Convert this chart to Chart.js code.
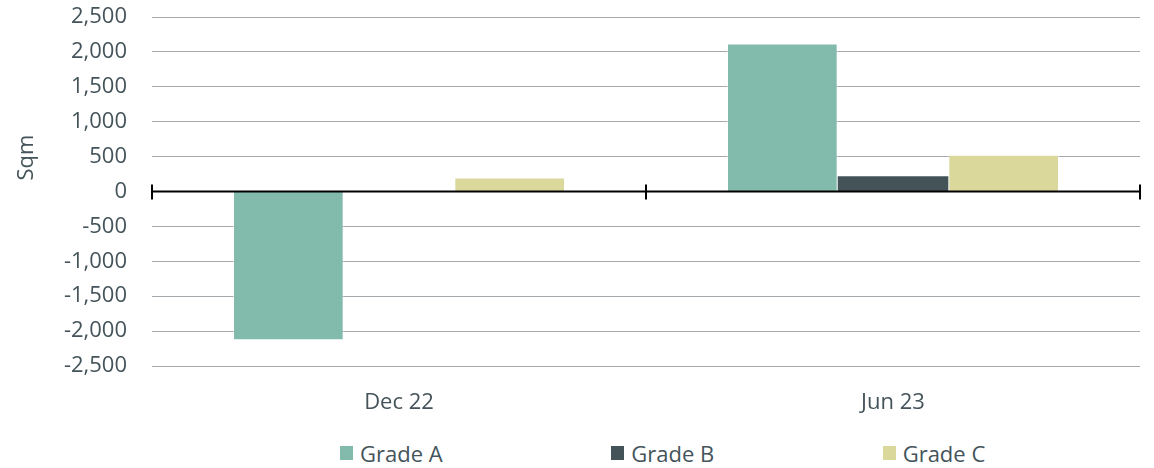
<!DOCTYPE html>
<html>
<head>
<meta charset="utf-8">
<script src="https://cdn.jsdelivr.net/npm/chart.js@4.4.1/dist/chart.umd.min.js"></script>
<style>
  html, body { margin: 0; padding: 0; background: #fff; overflow: hidden; }
  #wrap { width: 1154px; height: 425px; }
  #legend {
    width: 1154px; height: 43px;
    display: flex; align-items: center;
    padding: 12px 0 0 340px; box-sizing: border-box;
    font-family: 'Open Sans', sans-serif; font-size: 22px; color: #44545A;
  }
  #legend .item { width: 275px; display: flex; align-items: center; }
  #legend .box { width: 13px; height: 14px; margin-right: 7px; }
</style>
</head>
<body>
<div id="wrap"><canvas id="chart"></canvas></div>
<div id="legend"></div>
<script>
const periods = ["Dec 22", "Jun 23"];
const gradeA = [-2130, 2120];
const gradeB = [0, 220];
const gradeC = [200, 525];
const yTicks = [-2500, -2000, -1500, -1000, -500, 0, 500, 1000, 1500, 2000, 2500];

const textColor = "#44545A";
const font = { family: "'Open Sans', sans-serif", size: 22 };

// black zero line with tick marks on the category boundaries
const zeroAxis = {
  id: "zeroAxis",
  afterDatasetsDraw(chart) {
    const { ctx, chartArea, scales } = chart;
    const y0 = scales.y.getPixelForValue(0);
    ctx.save();
    ctx.strokeStyle = "#000";
    ctx.lineWidth = 2;
    ctx.beginPath();
    ctx.moveTo(chartArea.left, y0);
    ctx.lineTo(chartArea.right, y0);
    for (let i = 0; i <= periods.length; i++) {
      const x = Math.round(scales.x.getPixelForValue(i - 0.5));
      ctx.moveTo(x, y0 - 7);
      ctx.lineTo(x, y0 + 8);
    }
    ctx.stroke();
    ctx.restore();
  }
};

// rotated unit title to the left of the value axis
const unitTitle = {
  id: "unitTitle",
  afterDraw(chart) {
    const { ctx, chartArea } = chart;
    ctx.save();
    ctx.translate(27, (chartArea.top + chartArea.bottom) / 2 - 34);
    ctx.rotate(-Math.PI / 2);
    ctx.fillStyle = textColor;
    ctx.font = `${font.size}px ${font.family}`;
    ctx.textAlign = "center";
    ctx.textBaseline = "middle";
    ctx.fillText("Sqm", 0, 0);
    ctx.restore();
  }
};

// legend rendered as html so the items can be spread out evenly
const htmlLegend = {
  id: "htmlLegend",
  afterUpdate(chart) {
    const el = document.getElementById("legend");
    el.innerHTML = "";
    const items = chart.options.plugins.legend.labels.generateLabels(chart);
    items.forEach(item => {
      const row = document.createElement("div");
      row.className = "item";
      const box = document.createElement("span");
      box.className = "box";
      box.style.background = item.fillStyle;
      const label = document.createElement("span");
      label.textContent = item.text;
      row.appendChild(box);
      row.appendChild(label);
      el.appendChild(row);
    });
  }
};

new Chart(document.getElementById("chart"), {
  type: "bar",
  data: {
    labels: periods,
    datasets: [
      { label: "Grade A", data: gradeA, backgroundColor: "#82BAAC", borderColor: "rgba(255,255,255,0.45)", borderWidth: 1 },
      { label: "Grade B", data: gradeB, backgroundColor: "#435357", borderWidth: 0 },
      { label: "Grade C", data: gradeC, backgroundColor: "#DBD89C", borderColor: "rgba(255,255,255,0.45)", borderWidth: 1 }
    ]
  },
  options: {
    responsive: true,
    maintainAspectRatio: false,
    animation: false,
    layout: { padding: { top: 17, right: 14, left: 0, bottom: 0 } },
    datasets: {
      bar: { categoryPercentage: 0.672, barPercentage: 1.0, borderSkipped: "start" }
    },
    plugins: {
      legend: { display: false },
      tooltip: { enabled: false }
    },
    scales: {
      x: {
        grid: { display: false },
        border: { display: false },
        ticks: { color: textColor, font, padding: 16 },
        afterFit(scale) { scale.height = 59; }
      },
      y: {
        min: -2500,
        max: 2500,
        afterBuildTicks(scale) {
          scale.ticks = yTicks.map(v => ({ value: v }));
        },
        afterFit(scale) {
          scale.width = 152;
          scale.paddingTop = 0;
          scale.paddingBottom = 0;
        },
        grid: {
          color: ctx => ctx.tick && ctx.tick.value === 0 ? "rgba(0,0,0,0)" : "#A4A9AD",
          lineWidth: 1,
          drawTicks: false
        },
        border: { display: false },
        ticks: {
          color: textColor,
          font,
          padding: 25,
          callback: v => v.toLocaleString("en-US")
        }
      }
    }
  },
  plugins: [zeroAxis, unitTitle, htmlLegend]
});
</script>
</body>
</html>
